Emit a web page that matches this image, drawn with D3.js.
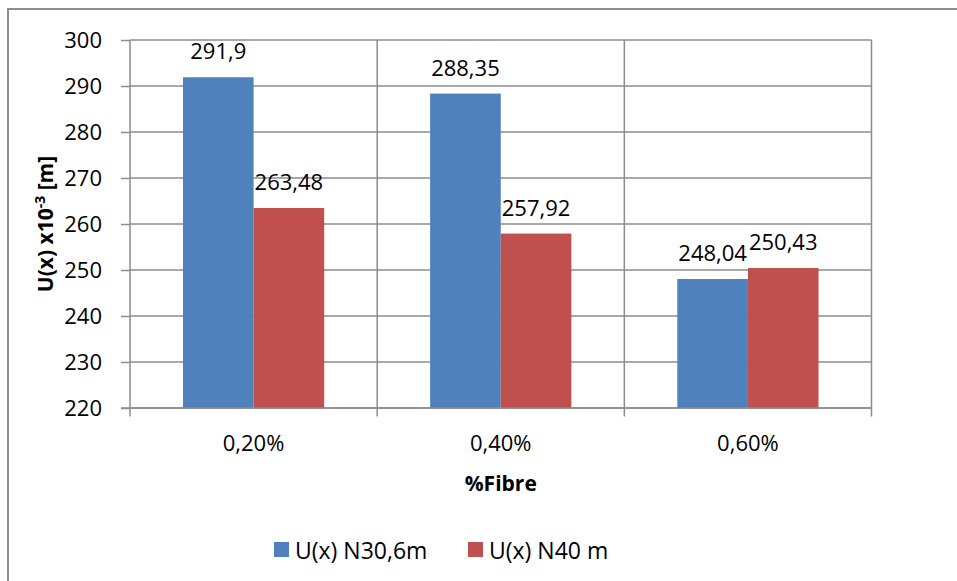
<!DOCTYPE html>
<html>
<head>
<meta charset="utf-8">
<script src="https://cdn.jsdelivr.net/npm/d3@7"></script>
<style>
  html, body { margin: 0; padding: 0; background: #fff; }
  svg { display: block; }
  text { font-family: "Open Sans", "Noto Sans", sans-serif; fill: #000; }
</style>
</head>
<body>
<svg id="chart" width="957" height="581"></svg>
<script>
const categories = ["0,20%", "0,40%", "0,60%"];
const seriesNames = ["U(x) N30,6m", "U(x) N40 m"];
const seriesA = [291.9, 288.35, 248.04];
const seriesB = [263.48, 257.92, 250.43];
const labelsA = ["291,9", "288,35", "248,04"];
const labelsB = ["263,48", "257,92", "250,43"];
const yTicks = [220, 230, 240, 250, 260, 270, 280, 290, 300];
const colors = ["#4F81BD", "#C0504D"];

const svg = d3.select("#chart");
const W = 957, H = 581;
const plot = { left: 130, right: 871.5, top: 40, bottom: 408 };
const gridColor = "#8c8c8c";

// outer border
svg.append("rect")
  .attr("x", 8).attr("y", 9).attr("width", W).attr("height", H)
  .attr("fill", "#fff").attr("stroke", "#8c8c8c").attr("stroke-width", 2);

const x0 = d3.scaleBand().domain(categories).range([plot.left, plot.right]).paddingInner(0).paddingOuter(0);
const x1 = d3.scaleBand().domain([0, 1]).range([0, x0.bandwidth()]).paddingInner(0).paddingOuter(0.75);
const y = d3.scaleLinear().domain([220, 300]).range([plot.bottom, plot.top]);

// horizontal gridlines + y axis
const yAxis = d3.axisLeft(y).tickValues(yTicks).tickSize(9).tickPadding(19).tickFormat(d3.format("d"));
const gy = svg.append("g").attr("transform", `translate(${plot.left},0)`).call(yAxis);
gy.select(".domain").remove();
gy.selectAll(".tick line").attr("stroke", gridColor).attr("stroke-width", 1.5);
gy.selectAll(".tick text").attr("font-size", 22).attr("fill", "#000").attr("font-family", "Open Sans");
svg.append("g").selectAll("line").data(yTicks).join("line")
  .attr("x1", plot.left).attr("x2", plot.right)
  .attr("y1", d => y(d)).attr("y2", d => y(d))
  .attr("stroke", gridColor).attr("stroke-width", 1.5);

// vertical gridlines at category boundaries
const bounds = categories.map(c => x0(c)).concat([x0(categories[categories.length - 1]) + x0.bandwidth()]);
svg.append("g").selectAll("line").data(bounds).join("line")
  .attr("x1", d => d).attr("x2", d => d)
  .attr("y1", plot.top).attr("y2", plot.bottom + 8.5)
  .attr("stroke", gridColor).attr("stroke-width", 1.5);

// x axis labels
const xAxis = d3.axisBottom(x0).tickSize(0).tickPadding(0);
const gx = svg.append("g").attr("transform", `translate(0,${plot.bottom})`).call(xAxis);
gx.select(".domain").remove();
gx.selectAll(".tick text").attr("font-size", 22).attr("fill", "#000").attr("font-family", "Open Sans")
  .attr("dy", null).attr("y", 43);

// bars
const groups = svg.append("g").selectAll("g").data(categories).join("g")
  .attr("transform", c => `translate(${x0(c)},0)`);
const seriesVals = [seriesA, seriesB];
const seriesLabels = [labelsA, labelsB];
groups.each(function(c, i) {
  const g = d3.select(this);
  [0, 1].forEach(s => {
    const v = seriesVals[s][i];
    g.append("rect")
      .attr("x", x1(s)).attr("width", x1.bandwidth())
      .attr("y", y(v)).attr("height", y(220) - y(v))
      .attr("fill", colors[s]);
    g.append("text")
      .attr("x", x1(s) + x1.bandwidth() / 2)
      .attr("y", y(v) - 18)
      .attr("text-anchor", "middle")
      .attr("font-size", 22)
      .text(seriesLabels[s][i]);
  });
});

// bottom axis line (drawn on top)
svg.append("line")
  .attr("x1", plot.left - 9).attr("x2", plot.right)
  .attr("y1", plot.bottom).attr("y2", plot.bottom)
  .attr("stroke", gridColor).attr("stroke-width", 1.5);

// axis titles
svg.append("text")
  .attr("x", (plot.left + plot.right) / 2).attr("y", 491)
  .attr("text-anchor", "middle").attr("font-size", 21).attr("font-weight", "bold")
  .text("%Fibre");

const yt = svg.append("text")
  .attr("transform", `translate(53,${(plot.top + plot.bottom) / 2}) rotate(-90)`)
  .attr("text-anchor", "middle").attr("font-size", 21).attr("font-weight", "bold");
yt.append("tspan").text("U(x) x10");
yt.append("tspan").attr("font-size", 14).attr("dy", -8).text("-3");
yt.append("tspan").attr("dy", 8).text(" [m]");

// legend
const legendX = [274, 468];
const lg = svg.append("g").selectAll("g").data(seriesNames).join("g")
  .attr("transform", (d, i) => `translate(${legendX[i]},542)`);
lg.append("rect").attr("width", 15).attr("height", 15).attr("fill", (d, i) => colors[i]);
lg.append("text").attr("x", 21).attr("y", 17).attr("font-size", 23).text(d => d);
</script>
</body>
</html>
